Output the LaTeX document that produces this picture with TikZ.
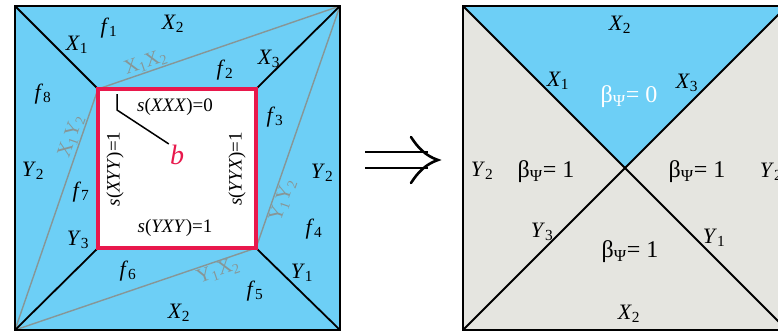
\documentclass[tikz,border=0pt]{standalone}
\usepackage{fontspec}
\setmainfont{Liberation Serif}
\definecolor{skyb}{RGB}{109,207,246}
\definecolor{lgray}{RGB}{229,229,224}
\definecolor{crim}{RGB}{232,24,76}
\definecolor{lgline}{RGB}{135,150,150}
\newcommand\lbl[2]{\textit{#1}\textsubscript{#2}}
\newcommand\bpsi[1]{β\textsubscript{Ψ}= #1}
\begin{document}
\begin{tikzpicture}[x=1pt,y=-1pt,
  lab/.style={inner sep=0pt,font=\fontsize{22}{22}\selectfont},
  blab/.style={inner sep=0pt,font=\fontsize{24}{24}\selectfont},
  slab/.style={inner sep=0pt,font=\fontsize{19}{19}\selectfont},
  glab/.style={inner sep=1pt,text=lgline,font=\fontsize{20}{20}\selectfont,sloped},
  blk/.style={line width=1.8pt,black},
  gln/.style={line width=1.4pt,lgline}]
\useasboundingbox (0,0) rectangle (778,332);
\clip (0,0) rectangle (778,332);
\fill[white] (0,0) rectangle (778,332);
% ---------- left panel
\coordinate (LTL) at (15,6);
\coordinate (LTR) at (340,6);
\coordinate (LBR) at (340,330);
\coordinate (LBL) at (15,330);
\coordinate (ITL) at (98,89);
\coordinate (ITR) at (256,89);
\coordinate (IBR) at (256,248);
\coordinate (IBL) at (98,248);
\fill[skyb] (LTL) rectangle (LBR);
\fill[white] (ITL) rectangle (IBR);
\draw[gln] (ITL) -- (LTR) node[glab,pos=0.21,anchor=south] (gx1x2) {X\textsubscript{1}X\textsubscript{2}};
\draw[gln] (IBR) -- (LTR) node[glab,pos=0.21,anchor=north] (gy1y2) {Y\textsubscript{1}Y\textsubscript{2}};
\draw[gln] (LBL) -- (ITL) node[glab,pos=0.79,anchor=south] (gx1y2) {X\textsubscript{1}Y\textsubscript{2}};
\draw[gln] (LBL) -- (IBR) node[glab,pos=0.83,anchor=north] (gy1x2) {Y\textsubscript{1}X\textsubscript{2}};
\draw[blk] (LTL) -- (ITL);
\draw[blk] (LTR) -- (ITR);
\draw[blk] (LBL) -- (IBL);
\draw[blk] (LBR) -- (IBR);
\draw[crim,line width=4pt] (ITL) rectangle (IBR);
\draw[line width=2pt] (LTL) rectangle (LBR);
% labels
\node[lab] (x1) at (77,45) {\lbl{X}{1}};
\node[lab] (f1) at (109,28) {\lbl{f}{1}};
\node[lab] (x2t) at (173,24) {\lbl{X}{2}};
\node[lab] (x3) at (269,59) {\lbl{X}{3}};
\node[lab] (f2) at (225,70) {\lbl{f}{2}};
\node[lab] (f8) at (43,94) {\lbl{f}{8}};
\node[lab] (f3) at (275,117) {\lbl{f}{3}};
\node[lab] (y2l) at (33,171) {\lbl{Y}{2}};
\node[lab] (y2r) at (322,173) {\lbl{Y}{2}};
\node[lab] (f7) at (81,192) {\lbl{f}{7}};
\node[lab] (f4) at (314,229) {\lbl{f}{4}};
\node[lab] (y3) at (78,240) {\lbl{Y}{3}};
\node[lab] (f6) at (128,271) {\lbl{f}{6}};
\node[lab] (y1) at (302,273) {\lbl{Y}{1}};
\node[lab] (f5) at (255,291) {\lbl{f}{5}};
\node[lab] (x2b) at (179,313) {\lbl{X}{2}};
\node[slab] (sxxx) at (175,107) {\textit{s}(\textit{XXX})=0};
\node[slab] (syxy) at (175,228) {\textit{s}(\textit{YXY})=1};
\node[slab,rotate=90] (sxyy) at (115,169) {\textit{s}(\textit{XYY})=1};
\node[slab,rotate=90] (syyx) at (237,169) {\textit{s}(\textit{YYX})=1};
\node[inner sep=1pt,text=crim,font=\fontsize{28}{28}\selectfont\itshape] (b) at (177,155) {b};
\coordinate (p1) at (117,94);
\coordinate (p2) at (117,110);
\draw[line width=1.5pt] (p1) -- (p2) -- (b.north west);
% ---------- arrow
\coordinate (a1) at (365,152);
\coordinate (a2) at (428,152);
\coordinate (a3) at (365,168);
\coordinate (a4) at (428,168);
\coordinate (tip) at (438,160);
\coordinate (h1) at (411,137);
\coordinate (h2) at (411,183);
\draw[line width=2.6pt] (a1) -- (a2);
\draw[line width=2.6pt] (a3) -- (a4);
\draw[line width=2.6pt,line cap=round] (h1) .. controls (418,148) and (426,156) .. (tip) .. controls (426,164) and (418,172) .. (h2);
% ---------- right panel
\coordinate (RTL) at (463,6);
\coordinate (RTR) at (787,6);
\coordinate (RBR) at (787,330);
\coordinate (RBL) at (463,330);
\coordinate (RC) at (625,168);
\fill[lgray] (RTL) rectangle (RBR);
\fill[skyb] (RTL) -- (RTR) -- (RC) -- cycle;
\draw[blk] (RTL) -- (RBR);
\draw[blk] (RTR) -- (RBL);
\draw[line width=2pt] (RTL) rectangle (RBR);
\node[lab] (rx2t) at (620,25) {\lbl{X}{2}};
\node[lab] (rx1) at (558,81) {\lbl{X}{1}};
\node[lab] (rx3) at (687,83) {\lbl{X}{3}};
\node[blab,text=white] (b0) at (629,97) {\bpsi{0}};
\node[lab] (ry2l) at (482,171) {\lbl{Y}{2}};
\node[blab] (bl) at (546,172) {\bpsi{1}};
\node[blab] (br) at (697,172) {\bpsi{1}};
\node[lab] (ry2r) at (771,172) {\lbl{Y}{2}};
\node[lab] (ry3) at (542,232) {\lbl{Y}{3}};
\node[lab] (ry1) at (714,238) {\lbl{Y}{1}};
\node[blab] (bb) at (630,252) {\bpsi{1}};
\node[lab] (rx2b) at (629,314) {\lbl{X}{2}};
\end{tikzpicture}
\end{document}
